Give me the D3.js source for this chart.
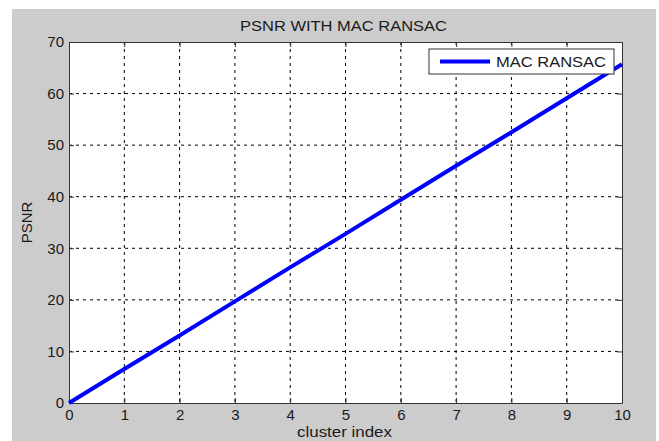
<!DOCTYPE html>
<html>
<head>
<meta charset="utf-8">
<script src="https://cdn.jsdelivr.net/npm/d3@7"></script>
<style>
  body { margin: 0; background: #fff; }
  text { font-family: "Liberation Sans", Arial, sans-serif; fill: #1a1a1a; }
</style>
</head>
<body>
<div id="chart"></div>
<script>
// values
const clusterIndex = [0, 1, 2, 3, 4, 5, 6, 7, 8, 9, 10];
const psnrValues = [0, 6.6, 13.1, 19.7, 26.3, 32.8, 39.4, 46.0, 52.5, 59.1, 65.7];
const xTicks = [0, 1, 2, 3, 4, 5, 6, 7, 8, 9, 10];
const yTicks = [0, 10, 20, 30, 40, 50, 60, 70];
const seriesName = "MAC RANSAC";

const width = 659;
const height = 441;
const margin = {top: 42, right: 37, bottom: 38, left: 69};
const innerW = width - margin.left - margin.right;
const innerH = height - margin.top - margin.bottom;

const svg = d3.select("#chart")
  .append("svg")
  .attr("width", width)
  .attr("height", height);

// grey figure background
svg.append("rect")
  .attr("x", 12).attr("y", 9)
  .attr("width", 644).attr("height", 432)
  .attr("fill", "#cccccc");

const g = svg.append("g")
  .attr("transform", `translate(${margin.left}, ${margin.top})`);

const xScale = d3.scaleLinear().domain([0, 10]).range([0, innerW]);
const yScale = d3.scaleLinear().domain([0, 70]).range([innerH, 0]);

g.append("rect")
  .attr("width", innerW).attr("height", innerH)
  .attr("fill", "#fff");

// dotted grid
g.append("g")
  .selectAll("line")
  .data(xTicks.slice(1, -1))
  .join("line")
  .attr("x1", d => xScale(d)).attr("x2", d => xScale(d))
  .attr("y1", 0).attr("y2", innerH)
  .attr("stroke", "#000").attr("stroke-width", 1)
  .attr("stroke-dasharray", "3,4");

g.append("g")
  .selectAll("line")
  .data(yTicks.slice(1, -1))
  .join("line")
  .attr("y1", d => yScale(d)).attr("y2", d => yScale(d))
  .attr("x1", 0).attr("x2", innerW)
  .attr("stroke", "#000").attr("stroke-width", 1)
  .attr("stroke-dasharray", "3,4");

// axes with inward ticks, matlab style
const xAxis = d3.axisBottom(xScale).tickValues(xTicks).tickSizeInner(-5).tickSizeOuter(0).tickPadding(9);
const xAxisTop = d3.axisTop(xScale).tickValues(xTicks).tickSizeInner(-5).tickSizeOuter(0).tickFormat("");
const yAxis = d3.axisLeft(yScale).tickValues(yTicks).tickSizeInner(-5).tickSizeOuter(0).tickPadding(5);
const yAxisRight = d3.axisRight(yScale).tickValues(yTicks).tickSizeInner(-5).tickSizeOuter(0).tickFormat("");

const xAxisWithG = g.append("g").attr("transform", `translate(0, ${innerH})`).call(xAxis);
g.append("g").call(xAxisTop);
const yAxisWithG = g.append("g").call(yAxis);
g.append("g").attr("transform", `translate(${innerW}, 0)`).call(yAxisRight);

g.selectAll(".domain").attr("stroke", "#333");
g.selectAll(".tick line").attr("stroke", "#333");
g.selectAll(".tick text").style("font-size", "15px").style("fill", "#1a1a1a");
xAxisWithG.selectAll(".tick text").attr("dy", "0.71em").attr("y", 6);

// the series
g.append("path")
  .datum(clusterIndex.map((x, i) => ({x: x, y: psnrValues[i]})))
  .attr("fill", "none")
  .style("stroke", "#0000ff")
  .style("stroke-width", "4px")
  .attr("d", d3.line().x(d => xScale(d.x)).y(d => yScale(d.y)));

// title and labels (source text is a bit wide, so stretch to match)
svg.append("text")
  .attr("x", 240).attr("y", 31)
  .attr("textLength", 207).attr("lengthAdjust", "spacingAndGlyphs")
  .style("font-size", "15px")
  .text("PSNR WITH MAC RANSAC");

svg.append("text")
  .attr("x", 297).attr("y", 437)
  .attr("textLength", 95).attr("lengthAdjust", "spacingAndGlyphs")
  .style("font-size", "15px")
  .text("cluster index");

svg.append("text")
  .attr("transform", `translate(32, ${margin.top + innerH / 2}) rotate(-90)`)
  .attr("text-anchor", "middle")
  .style("font-size", "15px")
  .text("PSNR");

// legend
const legend = svg.append("g").attr("transform", "translate(429, 49)");
legend.append("rect")
  .attr("width", 185).attr("height", 25)
  .attr("fill", "#fff").attr("stroke", "#333");
legend.append("line")
  .attr("x1", 11).attr("x2", 61).attr("y1", 12.5).attr("y2", 12.5)
  .attr("stroke", "#0000ff").attr("stroke-width", 4);
legend.append("text")
  .attr("x", 67).attr("y", 18)
  .attr("textLength", 110).attr("lengthAdjust", "spacingAndGlyphs")
  .style("font-size", "15.5px")
  .text(seriesName);
</script>
</body>
</html>
